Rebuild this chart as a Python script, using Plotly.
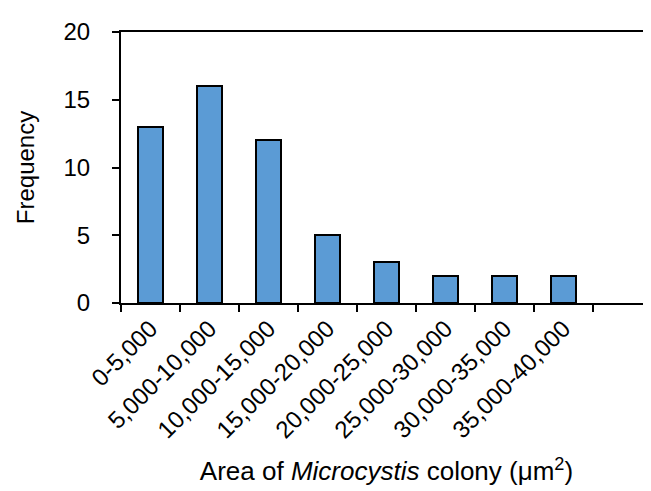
import plotly.graph_objects as go

categories = ["0-5,000", "5,000-10,000", "10,000-15,000", "15,000-20,000",
              "20,000-25,000", "25,000-30,000", "30,000-35,000", "35,000-40,000"]
frequency = [13, 16, 12, 5, 3, 2, 2, 2]
y_ticks = [0, 5, 10, 15, 20]

n_slots = len(categories) + 1  # one empty slot at the right
xpos = list(range(len(categories)))

fig = go.Figure()
fig.add_trace(go.Bar(
    x=xpos, y=frequency, width=0.42,
    marker=dict(color="#5B9BD5", line=dict(color="black", width=2)),
    showlegend=False,
))

font_family = "Liberation Sans, Arial, sans-serif"
fig.update_layout(
    width=651, height=491,
    margin=dict(l=113, r=5, t=24, b=196),
    plot_bgcolor="white", paper_bgcolor="white",
    font=dict(family=font_family, size=22, color="black"),
    bargap=0,
)
fig.update_xaxes(
    range=[-0.5, n_slots - 0.5],
    tickmode="array", tickvals=xpos, ticktext=categories,
    tickangle=-45, ticks="", ticklen=0,
    showline=True, linecolor="black", linewidth=2, mirror=True,
    showgrid=False, zeroline=False,
    minor=dict(tickmode="array", tickvals=[i - 0.5 for i in range(n_slots + 1)],
               ticks="outside", ticklen=7, tickwidth=2, tickcolor="black", showgrid=False),
    title=dict(text="Area of <i>Microcystis</i> colony (μm<sup>2</sup>)", standoff=20,
               font=dict(size=26)),
    tickfont=dict(size=24),
)
fig.update_yaxes(
    range=[0, 20], tickmode="array", tickvals=y_ticks,
    ticks="outside", ticklen=7, tickwidth=2, tickcolor="black", ticklabelstandoff=17,
    showline=True, linecolor="black", linewidth=2, mirror=True,
    showgrid=False, zeroline=False,
    title=dict(text="Frequency", standoff=22, font=dict(size=24)),
    tickfont=dict(size=24),
)
fig.write_html("out.html")
